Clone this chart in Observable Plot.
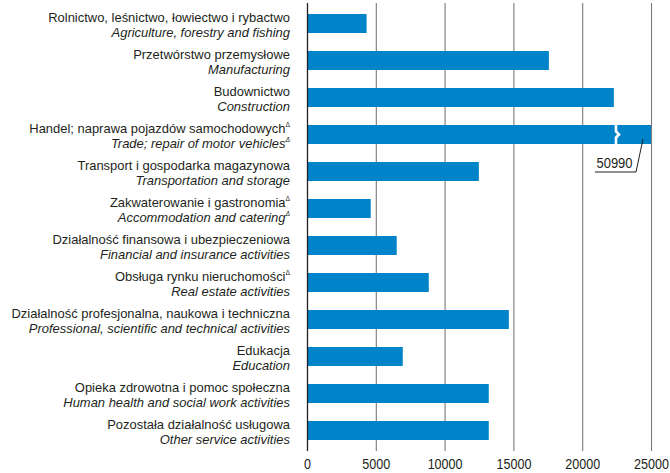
<!DOCTYPE html>
<html><head><meta charset="utf-8">
<script src="https://cdn.jsdelivr.net/npm/d3@7"></script>
<script src="https://cdn.jsdelivr.net/npm/@observablehq/plot@0.6"></script>
<style>body{margin:0;background:#fff}</style>
</head><body><div id="chart"></div>
<script>
const labelsPL = [
  "Rolnictwo, leśnictwo, łowiectwo i rybactwo",
  "Przetwórstwo przemysłowe",
  "Budownictwo",
  "Handel; naprawa pojazdów samochodowych",
  "Transport i gospodarka magazynowa",
  "Zakwaterowanie i gastronomia",
  "Działalność finansowa i ubezpieczeniowa",
  "Obsługa rynku nieruchomości",
  "Działalność profesjonalna, naukowa i techniczna",
  "Edukacja",
  "Opieka zdrowotna i pomoc społeczna",
  "Pozostała działalność usługowa"
];
const labelsEN = [
  "Agriculture, forestry and fishing",
  "Manufacturing",
  "Construction",
  "Trade; repair of motor vehicles",
  "Transportation and storage",
  "Accommodation and catering",
  "Financial and insurance activities",
  "Real estate activities",
  "Professional, scientific and technical activities",
  "Education",
  "Human health and social work activities",
  "Other service activities"
];
const values = [4330, 17580, 22300, 50990, 12490, 4630, 6520, 8850, 14670, 6960, 13210, 13210];
const deltaPL = [false, false, false, true, false, true, false, true, false, false, false, false];
const deltaEN = [false, false, false, true, false, true, false, false, false, false, false, false];
const xTicks = [0, 5000, 10000, 15000, 20000, 25000];
const xMax = 25000;
const brokenIndex = 3;
const brokenLabel = "50990";

function hasFont(name) {
  const c = document.createElement("canvas").getContext("2d");
  const s = "Rolnictwo, leśnictwo 0123456789";
  c.font = "20px monospace"; const a = c.measureText(s).width;
  c.font = `20px '${name}', monospace`; const b = c.measureText(s).width;
  return Math.abs(a - b) > 0.5;
}
const narrow = hasFont("Liberation Sans Narrow") ? "'Liberation Sans Narrow'" :
               hasFont("Arial Narrow") ? "'Arial Narrow'" : null;
const FONT = narrow ? narrow + ", sans-serif" : "'Liberation Sans', Arial, sans-serif";

const data = labelsPL.map((pl, i) => ({pl, en: labelsEN[i], value: values[i]}));
const ink = "#231f20";
const blue = "#0084c9";

const plot = Plot.plot({
  width: 670,
  height: 473,
  marginLeft: 307,
  marginRight: 19,
  marginTop: 3,
  marginBottom: 22,
  style: {fontFamily: FONT, fontSize: "15px", color: ink, background: "#fff"},
  x: {domain: [0, xMax], clamp: true, label: null},
  y: {domain: labelsPL, paddingInner: 0.49, paddingOuter: 0.245, axis: null},
  marks: [
    Plot.ruleX(xTicks.slice(1), {stroke: "#7a7a7a", strokeWidth: 1.1}),
    Plot.barX(data, {x: "value", y: "pl", fill: blue}),
    Plot.ruleX([0], {stroke: ink, strokeWidth: 1.3}),
    Plot.axisX({ticks: xTicks, tickSize: 0, tickPadding: 7, tickFormat: d => String(d), fill: ink, label: null})
  ]
});
document.getElementById("chart").appendChild(plot);

const svg = d3.select(plot);
const xs = plot.scale("x"), ys = plot.scale("y");
const bw = ys.bandwidth;
const x0 = xs.apply(0);
const g = svg.append("g").attr("font-family", FONT).attr("fill", ink);

// measure horizontal scale so that widths match the reference typography
function widthOf(str, size, italic) {
  const t = svg.append("text").attr("font-family", FONT).attr("font-size", size)
    .attr("font-style", italic ? "italic" : null).text(str);
  const w = t.node().getComputedTextLength();
  t.remove();
  return w;
}
const FS = 13.5;
const kLab = 242 / widthOf(labelsPL[0], FS, false);
const kTick = 35 / widthOf("10000", 15, false);

data.forEach((d, i) => {
  const c = ys.apply(d.pl) + bw / 2;
  const lx = x0 - 17;
  const t1 = g.append("text").attr("text-anchor", "end").attr("font-size", FS)
    .attr("transform", `translate(${lx},${c - 1.5}) scale(${kLab},1)`);
  t1.append("tspan").text(d.pl);
  if (deltaPL[i]) t1.append("tspan").attr("font-size", 7).attr("dy", -6).text("Δ");
  const t2 = g.append("text").attr("text-anchor", "end").attr("font-size", FS)
    .attr("font-style", "italic")
    .attr("transform", `translate(${lx},${c + 13}) scale(${kLab},1)`);
  t2.append("tspan").text(d.en);
  if (deltaEN[i]) t2.append("tspan").attr("font-size", 7).attr("dy", -6).text("Δ");
});

svg.selectAll("g[aria-label='x-axis tick label'] text").each(function() {
  const t = d3.select(this);
  t.attr("transform", (t.attr("transform") || "") + ` scale(${kTick},1)`);
});

// break mark + callout for the truncated bar
{
  const d = data[brokenIndex];
  const top = ys.apply(d.pl), c = top + bw / 2, bot = top + bw;
  const xe = xs.apply(xMax);
  const bx = xe - 35;
  svg.append("path")
    .attr("d", `M${bx},${top - 1} L${bx},${c - 3} L${bx + 3},${c} L${bx},${c + 3} L${bx},${bot + 1}`)
    .attr("fill", "none").attr("stroke", "#fff").attr("stroke-width", 2.6);
  svg.append("path")
    .attr("d", `M${xe - 56},${c + 37.5} L${xe - 15},${c + 37.5} L${xe - 8},${c + 4.5}`)
    .attr("fill", "none").attr("stroke", ink).attr("stroke-width", 1);
  svg.append("text").attr("font-family", FONT).attr("font-size", 15.5).attr("fill", ink)
    .attr("text-anchor", "middle")
    .attr("transform", `translate(${xe - 36.5},${c + 33.5}) scale(${kTick},1)`)
    .text(brokenLabel);
}
</script>
</body></html>
